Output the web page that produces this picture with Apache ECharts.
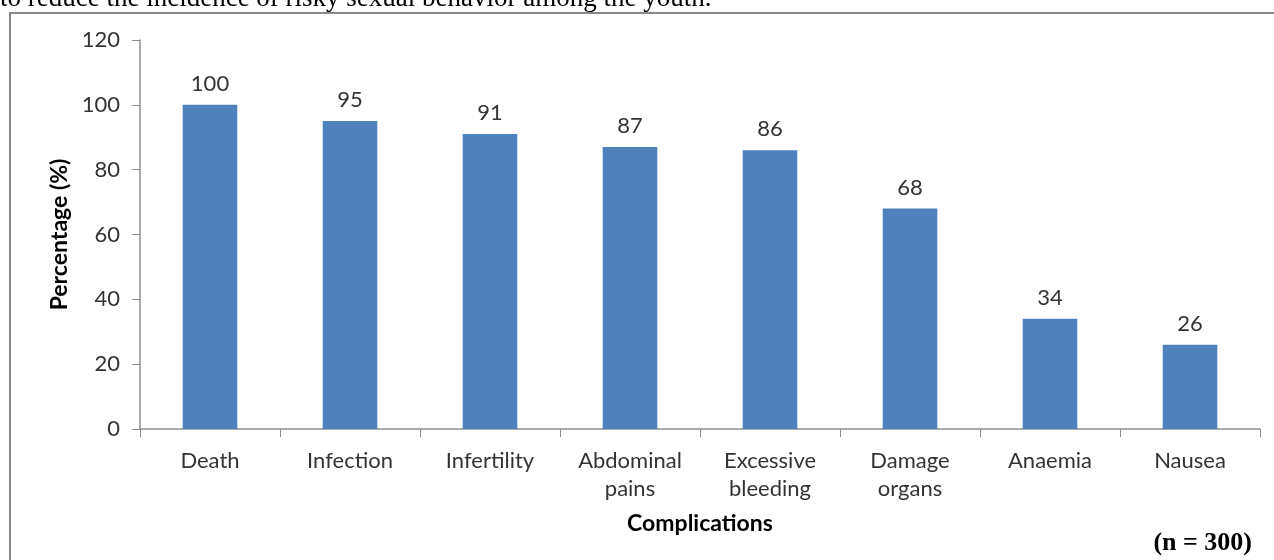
<!DOCTYPE html>
<html><head><meta charset="utf-8">
<script src="https://cdn.jsdelivr.net/npm/echarts@6/dist/echarts.min.js"></script>
<style>html,body{margin:0;padding:0;background:#fff}#c{width:1274px;height:560px}</style>
</head><body><div id="c"></div>
<script>
const categories = ['Death','Infection','Infertility','Abdominal\npains','Excessive\nbleeding','Damage\norgans','Anaemia','Nausea'];
const values = [100,95,91,87,86,68,34,26];
const yTicks = {min:0,max:120,interval:20};

const chart = echarts.init(document.getElementById('c'));
chart.setOption({
  animation:false,
  backgroundColor:'#fff',
  graphic:[
    {type:'text',x:0,y:12,style:{text:'to reduce the incidence of risky sexual behavior among the youth.',font:'27px "Liberation Serif"',fill:'#000',verticalAlign:'bottom'}},
    {type:'rect',shape:{x:10,y:13,width:1300,height:600},style:{fill:'none',stroke:'#8a8a8a',lineWidth:2}},
    {type:'text',x:1252,y:543,style:{text:'(n = 300)',font:'bold 26px "Liberation Serif"',fill:'#000',align:'right',verticalAlign:'middle'}}
  ],
  grid:{left:140,right:14,top:40,bottom:131},
  xAxis:{
    type:'category',data:categories,
    name:'Complications',nameLocation:'middle',nameGap:83,
    nameTextStyle:{fontFamily:'Lato',fontSize:23,fontWeight:'bold',color:'#000'},
    axisLine:{lineStyle:{color:'#8c8c8c',width:1.5}},
    axisTick:{show:true,length:8,lineStyle:{color:'#8c8c8c'}},
    axisLabel:{fontFamily:'Lato',fontSize:22,color:'#333',margin:18,lineHeight:28}
  },
  yAxis:{
    type:'value',min:yTicks.min,max:yTicks.max,interval:yTicks.interval,
    name:'Percentage (%)',nameLocation:'middle',nameGap:68,nameRotate:90,
    nameTextStyle:{fontFamily:'Lato',fontSize:23,fontWeight:'bold',color:'#000'},
    axisLine:{show:true,lineStyle:{color:'#8c8c8c',width:1.5}},
    axisTick:{show:true,length:8,lineStyle:{color:'#8c8c8c'}},
    splitLine:{show:false},
    axisLabel:{fontFamily:'Lato',fontSize:22,color:'#333',margin:20}
  },
  series:[{
    type:'bar',data:values,barWidth:'39%',
    itemStyle:{color:'#4F81BD'},
    label:{show:true,position:'top',distance:10,fontFamily:'Lato',fontSize:22,color:'#333'}
  }]
});
</script></body></html>
